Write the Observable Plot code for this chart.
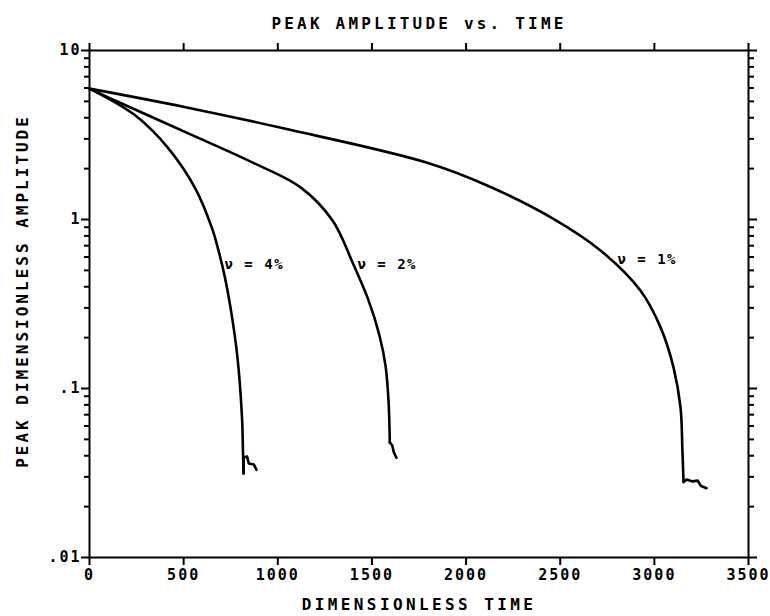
<!DOCTYPE html>
<html>
<head>
<meta charset="utf-8">
<script src="https://cdn.jsdelivr.net/npm/d3@7"></script>
<script src="https://cdn.jsdelivr.net/npm/@observablehq/plot@0.6"></script>
<style>
  html, body { margin: 0; padding: 0; background: white; }
  svg text { font-family: "DejaVu Sans Mono", monospace; font-weight: bold; fill: black; }
</style>
</head>
<body>
<div id="chart"></div>
<script>
// ---- data ----
// nu = 4%
const t4 = [0, 244, 421, 563, 652, 685, 717, 749, 786, 810, 815, 818];
const v4 = [5.95, 4.12, 2.62, 1.52, 0.88, 0.656, 0.467, 0.301, 0.152, 0.0673, 0.0433, 0.0314];
const t4tail = [818, 819, 837, 846, 873, 887];
const v4tail = [0.0314, 0.0392, 0.0396, 0.036, 0.0355, 0.033];
// nu = 2%
const t2 = [0, 156, 510, 864, 1121, 1291, 1397, 1482, 1540, 1572, 1588, 1595];
const v2 = [5.95, 4.94, 3.29, 2.18, 1.55, 0.986, 0.557, 0.332, 0.206, 0.137, 0.085, 0.048];
const t2tail = [1595, 1608, 1616, 1630];
const v2tail = [0.048, 0.046, 0.042, 0.0389];
// nu = 1%
const t1 = [0, 510, 1041, 1785, 2112, 2464, 2714, 2926, 3033, 3102, 3139, 3149, 3155];
const v1 = [5.95, 4.62, 3.44, 2.18, 1.59, 1.01, 0.656, 0.38, 0.23, 0.133, 0.077, 0.043, 0.028];
const t1tail = [3155, 3171, 3203, 3230, 3246, 3277];
const v1tail = [0.028, 0.0289, 0.0282, 0.0285, 0.0266, 0.0257];

const curveLabels = ["ν = 4%", "ν = 2%", "ν = 1%"];
const curveLabelT = [717, 1423, 2804];
const curveLabelV = [0.542, 0.542, 0.579];

const xTicks = [0, 500, 1000, 1500, 2000, 2500, 3000, 3500];
const yMajor = [0.01, 0.1, 1, 10];
const yMajorLabels = [".01", ".1", "1", "10"];
const minorMult = [2, 3, 4, 5, 6, 7, 8, 9];
const yMinor = [0.01, 0.1, 1].flatMap(d => minorMult.map(m => +(d * m).toPrecision(3)));

const titleText = "PEAK AMPLITUDE vs. TIME";
const xLabel = "DIMENSIONLESS TIME";
const yLabel = "PEAK DIMENSIONLESS AMPLITUDE";

const toRows = (ts, vs) => ts.map((t, i) => ({t, v: vs[i]}));
const main = [toRows(t4, v4), toRows(t2, v2), toRows(t1, v1)];
const tails = [toRows(t4tail, v4tail), toRows(t2tail, v2tail), toRows(t1tail, v1tail)];
const labelRows = curveLabels.map((s, i) => ({s, t: curveLabelT[i], v: curveLabelV[i]}));

const chart = Plot.plot({
  width: 770,
  height: 616,
  marginLeft: 89,
  marginRight: 22,
  marginTop: 50,
  marginBottom: 59,
  style: {fontFamily: "DejaVu Sans Mono", fontSize: "15px", color: "black", background: "white"},
  x: {domain: [0, 3500]},
  y: {type: "log", domain: [0.01, 10]},
  marks: [
    // axes
    Plot.axisX({anchor: "bottom", ticks: xTicks, tickSize: 8, tickPadding: 4, tickFormat: d => String(d), label: null, strokeWidth: 2}),
    Plot.axisX({anchor: "top", ticks: xTicks, tickSize: 8, tickFormat: () => "", label: null, strokeWidth: 2}),
    Plot.axisY({anchor: "left", ticks: yMajor, tickSize: 8, tickPadding: 0, tickFormat: d => yMajorLabels[yMajor.indexOf(d)], label: null, strokeWidth: 2}),
    Plot.axisY({anchor: "left", ticks: yMinor, tickSize: 5, tickFormat: () => "", label: null, strokeWidth: 2}),
    Plot.axisY({anchor: "right", ticks: yMajor, tickSize: 8, tickFormat: () => "", label: null, strokeWidth: 2}),
    Plot.axisY({anchor: "right", ticks: yMinor, tickSize: 5, tickFormat: () => "", label: null, strokeWidth: 2}),
    Plot.frame({stroke: "black", strokeWidth: 2}),
    // curves
    ...main.map(d => Plot.line(d, {x: "t", y: "v", stroke: "black", strokeWidth: 2.6, curve: "catmull-rom"})),
    ...tails.map(d => Plot.line(d, {x: "t", y: "v", stroke: "black", strokeWidth: 2.6, curve: "linear"})),
    Plot.text(labelRows, {x: "t", y: "v", text: "s", textAnchor: "start", fill: "black", fontSize: 14, fontWeight: "bold"}),
    // titles
    Plot.text([titleText], {frameAnchor: "top", dy: -33, fill: "black", fontSize: 16, fontWeight: "bold"}),
    Plot.text([xLabel], {frameAnchor: "bottom", dy: 52, fill: "black", fontSize: 16, fontWeight: "bold"}),
    Plot.text([yLabel], {frameAnchor: "left", textAnchor: "middle", dx: -67, dy: -13, rotate: -90, fill: "black", fontSize: 16, fontWeight: "bold"})
  ]
});
document.getElementById("chart").appendChild(chart);

// letter spacing to mimic the wide plotter lettering
const spacing = new Map([[titleText, "3.2px"], [xLabel, "3.4px"], [yLabel, "3px"]]);
d3.select(chart).selectAll("text").each(function() {
  const s = this.textContent;
  const g = this.parentNode && this.parentNode.getAttribute("aria-label");
  if (spacing.has(s)) d3.select(this).style("letter-spacing", spacing.get(s));
  else if (curveLabels.includes(s)) d3.select(this).style("letter-spacing", "1.5px");
  else if (g && g.includes("tick label")) d3.select(this).style("letter-spacing", "2px");
});
</script>
</body>
</html>
